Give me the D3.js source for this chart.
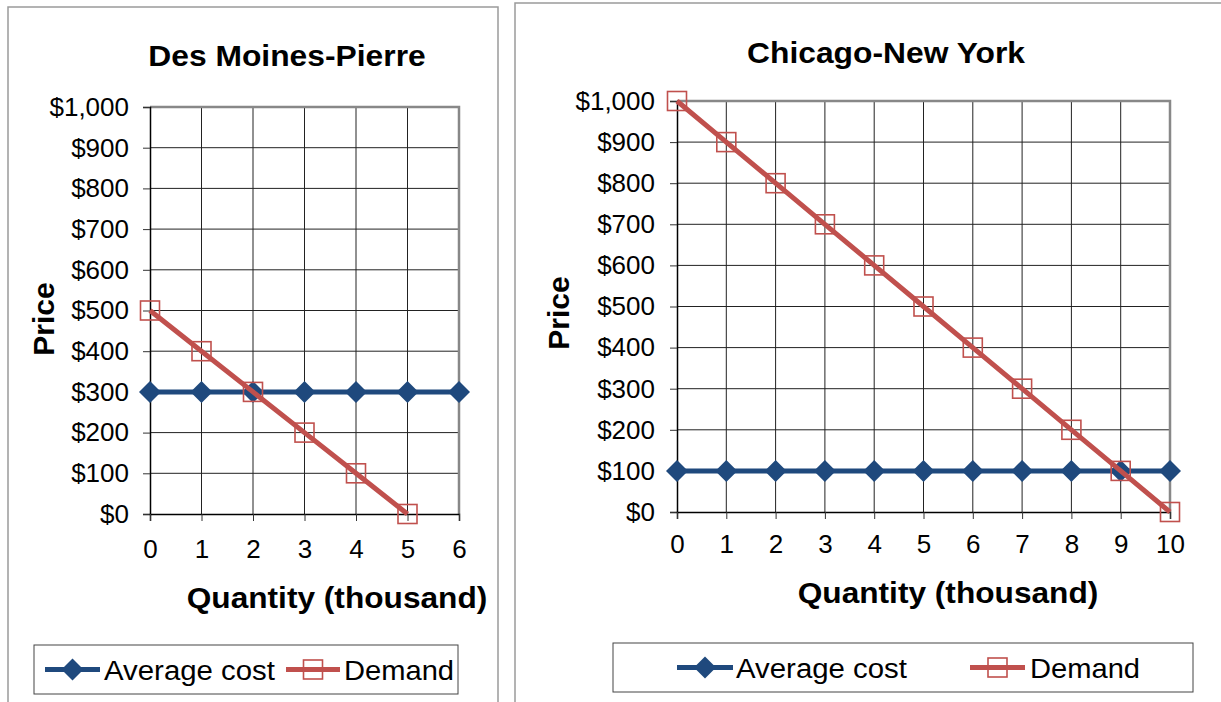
<!DOCTYPE html>
<html>
<head>
<meta charset="utf-8">
<script src="https://cdn.jsdelivr.net/npm/d3@7"></script>
<style>
  html, body { margin: 0; padding: 0; background: #fff; }
  svg { display: block; font-family: "Liberation Sans", Arial, sans-serif; }
</style>
</head>
<body>
<svg id="chart" width="1221" height="702"></svg>
<script>
// Des Moines-Pierre route
const dmQty = [0, 1, 2, 3, 4, 5, 6];
const dmAvgCost = [300, 300, 300, 300, 300, 300, 300];
const dmDemandQty = [0, 1, 2, 3, 4, 5];
const dmDemand = [500, 400, 300, 200, 100, 0];

// Chicago-New York route
const chQty = [0, 1, 2, 3, 4, 5, 6, 7, 8, 9, 10];
const chAvgCost = [100, 100, 100, 100, 100, 100, 100, 100, 100, 100, 100];
const chDemandQty = [0, 1, 2, 3, 4, 5, 6, 7, 8, 9, 10];
const chDemand = [1000, 900, 800, 700, 600, 500, 400, 300, 200, 100, 0];

// Shared axis ticks and labels
const priceTicks = [0, 100, 200, 300, 400, 500, 600, 700, 800, 900, 1000];
const dmQtyTicks = [0, 1, 2, 3, 4, 5, 6];
const chQtyTicks = [0, 1, 2, 3, 4, 5, 6, 7, 8, 9, 10];
const seriesNames = ["Average cost", "Demand"];
const chartTitles = ["Des Moines-Pierre", "Chicago-New York"];
const yAxisTitle = "Price";
const xAxisTitle = "Quantity (thousand)";

const BLUE = "#1F497D";
const RED = "#C0504D";
const fmtPrice = d => "$" + d3.format(",")(d);

const svg = d3.select("#chart");

function addText(g, str, x, y, opt) {
  const o = Object.assign({ size: 25, weight: "normal", anchor: "start", sx: 1.04, rot: 0 }, opt || {});
  return g.append("text")
    .attr("transform", `translate(${x},${y}) rotate(${o.rot}) scale(${o.sx},1)`)
    .attr("text-anchor", o.anchor)
    .attr("font-size", o.size)
    .attr("font-weight", o.weight)
    .attr("fill", "#000")
    .text(str);
}

function diamond(g, x, y, r) {
  g.append("path")
    .attr("d", `M${x},${y - r}L${x + r},${y}L${x},${y + r}L${x - r},${y}Z`)
    .attr("fill", BLUE);
}

function square(g, x, y, s) {
  g.append("rect")
    .attr("x", x - s / 2).attr("y", y - s / 2)
    .attr("width", s).attr("height", s)
    .attr("fill", "none")
    .attr("stroke", RED)
    .attr("stroke-width", 1.6);
}

function drawPanel(cfg) {
  const g = svg.append("g");

  // panel frame
  g.append("rect")
    .attr("x", cfg.frame[0]).attr("y", cfg.frame[1])
    .attr("width", cfg.frame[2]).attr("height", cfg.frame[3])
    .attr("fill", "#fff").attr("stroke", "#9a9a9a").attr("stroke-width", 1.5);

  const x = d3.scaleLinear().domain([cfg.qtyTicks[0], cfg.qtyTicks[cfg.qtyTicks.length - 1]]).range([cfg.left, cfg.right]);
  const y = d3.scaleLinear().domain([0, 1000]).range([cfg.bottom, cfg.top]);

  // title
  addText(g, cfg.title, cfg.titleX, cfg.titleY, { size: 30, weight: "bold", anchor: "middle", sx: 1.06 });

  // grid lines
  g.append("g").selectAll("line").data(priceTicks.slice(1)).join("line")
    .attr("x1", cfg.left).attr("x2", cfg.right)
    .attr("y1", d => y(d)).attr("y2", d => y(d))
    .attr("stroke", "#222").attr("stroke-width", 1);
  g.append("g").selectAll("line").data(cfg.qtyTicks.slice(1)).join("line")
    .attr("y1", cfg.top).attr("y2", cfg.bottom)
    .attr("x1", d => x(d)).attr("x2", d => x(d))
    .attr("stroke", "#222").attr("stroke-width", 1);

  // plot border (top/right)
  g.append("path")
    .attr("d", `M${cfg.left},${cfg.top}H${cfg.right}V${cfg.bottom}`)
    .attr("fill", "none").attr("stroke", "#888").attr("stroke-width", 2.5);

  // axes
  const yAxis = d3.axisLeft(y).tickValues(priceTicks).tickFormat(fmtPrice).tickSize(7).tickPadding(cfg.yPad);
  const xAxis = d3.axisBottom(x).tickValues(cfg.qtyTicks).tickFormat(d3.format("d")).tickSize(7).tickPadding(cfg.xPad);

  const ya = g.append("g").attr("transform", `translate(${cfg.left},0)`).call(yAxis);
  const xa = g.append("g").attr("transform", `translate(0,${cfg.bottom})`).call(xAxis);
  [ya, xa].forEach(a => {
    a.select(".domain").attr("stroke", "#000").attr("stroke-width", 1.5);
    a.selectAll(".tick line").attr("stroke", "#333");
    a.selectAll("text")
      .attr("font-size", 26)
      .attr("font-family", "Liberation Sans, Arial, sans-serif")
      .attr("fill", "#000");
  });

  // axis titles
  addText(g, cfg.yTitle, cfg.yTitleX, cfg.yTitleY, { size: 30, weight: "bold", anchor: "middle", rot: -90, sx: 1.0 });
  addText(g, cfg.xTitle, cfg.xTitleX, cfg.xTitleY, { size: 30, weight: "bold", anchor: "middle", sx: 1.055 });

  // Average cost series
  const line = d3.line().x(d => x(d[0])).y(d => y(d[1]));
  const costPts = cfg.qty.map((q, i) => [q, cfg.cost[i]]);
  g.append("path").attr("d", line(costPts))
    .attr("fill", "none").attr("stroke", BLUE).attr("stroke-width", 5);
  costPts.forEach(p => diamond(g, x(p[0]), y(p[1]), 11));

  // Demand series
  const demPts = cfg.demandQty.map((q, i) => [q, cfg.demand[i]]);
  g.append("path").attr("d", line(demPts))
    .attr("fill", "none").attr("stroke", RED).attr("stroke-width", 5);
  demPts.forEach(p => square(g, x(p[0]), y(p[1]), 19));

  // legend
  const L = cfg.legend;
  g.append("rect").attr("x", L.x).attr("y", L.y).attr("width", L.w).attr("height", L.h)
    .attr("fill", "#fff").attr("stroke", "#444").attr("stroke-width", 1);
  const ly = L.y + L.h / 2;
  g.append("line").attr("x1", L.c1[0]).attr("x2", L.c1[1]).attr("y1", ly).attr("y2", ly)
    .attr("stroke", BLUE).attr("stroke-width", 5);
  diamond(g, (L.c1[0] + L.c1[1]) / 2, ly, 11);
  addText(g, seriesNames[0], L.t1, ly + 10, { size: 28, sx: 1.05 });
  g.append("line").attr("x1", L.c2[0]).attr("x2", L.c2[1]).attr("y1", ly).attr("y2", ly)
    .attr("stroke", RED).attr("stroke-width", 5);
  square(g, (L.c2[0] + L.c2[1]) / 2, ly, 19);
  addText(g, seriesNames[1], L.t2, ly + 10, { size: 28, sx: 1.04 });
}

drawPanel({
  frame: [8, 7, 490, 720],
  left: 150, right: 459, top: 107, bottom: 514,
  qtyTicks: dmQtyTicks, qty: dmQty, cost: dmAvgCost, demandQty: dmDemandQty, demand: dmDemand,
  title: chartTitles[0], titleX: 287, titleY: 66,
  yTitle: yAxisTitle, yTitleX: 54, yTitleY: 319,
  xTitle: xAxisTitle, xTitleX: 337, xTitleY: 608,
  yPad: 14, xPad: 19,
  legend: { x: 34, y: 645, w: 424, h: 49, c1: [45, 100], t1: 104, c2: [286, 340], t2: 344 }
});

drawPanel({
  frame: [515, 3, 720, 720],
  left: 677, right: 1170, top: 101, bottom: 512,
  qtyTicks: chQtyTicks, qty: chQty, cost: chAvgCost, demandQty: chDemandQty, demand: chDemand,
  title: chartTitles[1], titleX: 886, titleY: 63,
  yTitle: yAxisTitle, yTitleX: 569, yTitleY: 313,
  xTitle: xAxisTitle, xTitleX: 948, xTitleY: 603,
  yPad: 15, xPad: 16,
  legend: { x: 613, y: 643, w: 580, h: 49, c1: [677, 733], t1: 736, c2: [970, 1025], t2: 1030 }
});
</script>
</body>
</html>
